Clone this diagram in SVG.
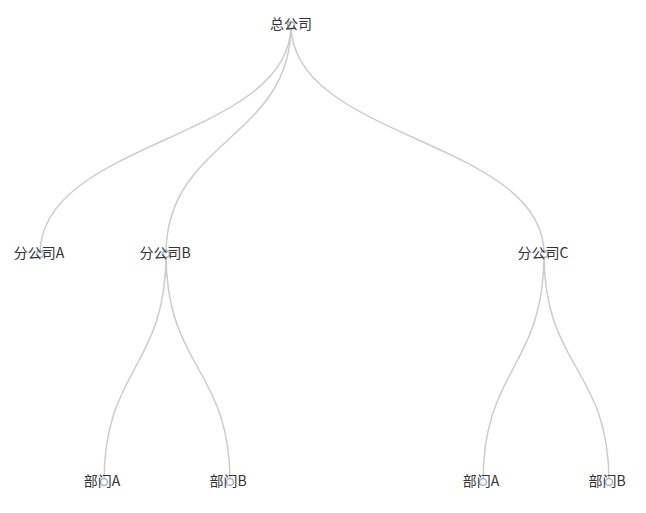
<svg xmlns="http://www.w3.org/2000/svg" width="646" height="513" viewBox="0 0 646 513">
<style>
.link{fill:none;stroke:#cccccc;stroke-width:1.5}
.sym{fill:#ffffff;stroke:#9fb3d9;stroke-width:1.5}
.lbl{font-family:"Noto Sans CJK SC","Liberation Sans",sans-serif;font-size:14px;fill:#333333;text-anchor:middle;dominant-baseline:central}
</style>
<rect width="646" height="513" fill="#ffffff"/>
<g id="connectors">
<path class="link" d="M291,25 C291,139.5 40,139.5 40,254"/>
<path class="link" d="M291,25 C291,139.5 166,139.5 166,254"/>
<path class="link" d="M291,25 C291,139.5 544,139.5 544,254"/>
<path class="link" d="M166,254 C166,368 104,368 104,482"/>
<path class="link" d="M166,254 C166,368 230,368 230,482"/>
<path class="link" d="M544,254 C544,368 483,368 483,482"/>
<path class="link" d="M544,254 C544,368 609,368 609,482"/>
</g>
<g id="n-root"><circle class="sym" cx="291" cy="25" r="3.5"/><text class="lbl" x="291" y="23">总公司</text></g>
<g id="n-a"><circle class="sym" cx="40" cy="254" r="3.5"/><text class="lbl" x="39" y="252">分公司A</text></g>
<g id="n-b"><circle class="sym" cx="166" cy="254" r="3.5"/><text class="lbl" x="165" y="252">分公司B</text></g>
<g id="n-c"><circle class="sym" cx="544" cy="254" r="3.5"/><text class="lbl" x="543" y="252">分公司C</text></g>
<g id="n-b1"><circle class="sym" cx="104" cy="482" r="3.5"/><text class="lbl" x="102" y="480">部门A</text></g>
<g id="n-b2"><circle class="sym" cx="230" cy="482" r="3.5"/><text class="lbl" x="228" y="480">部门B</text></g>
<g id="n-c1"><circle class="sym" cx="483" cy="482" r="3.5"/><text class="lbl" x="481" y="480">部门A</text></g>
<g id="n-c2"><circle class="sym" cx="609" cy="482" r="3.5"/><text class="lbl" x="607" y="480">部门B</text></g>
</svg>
